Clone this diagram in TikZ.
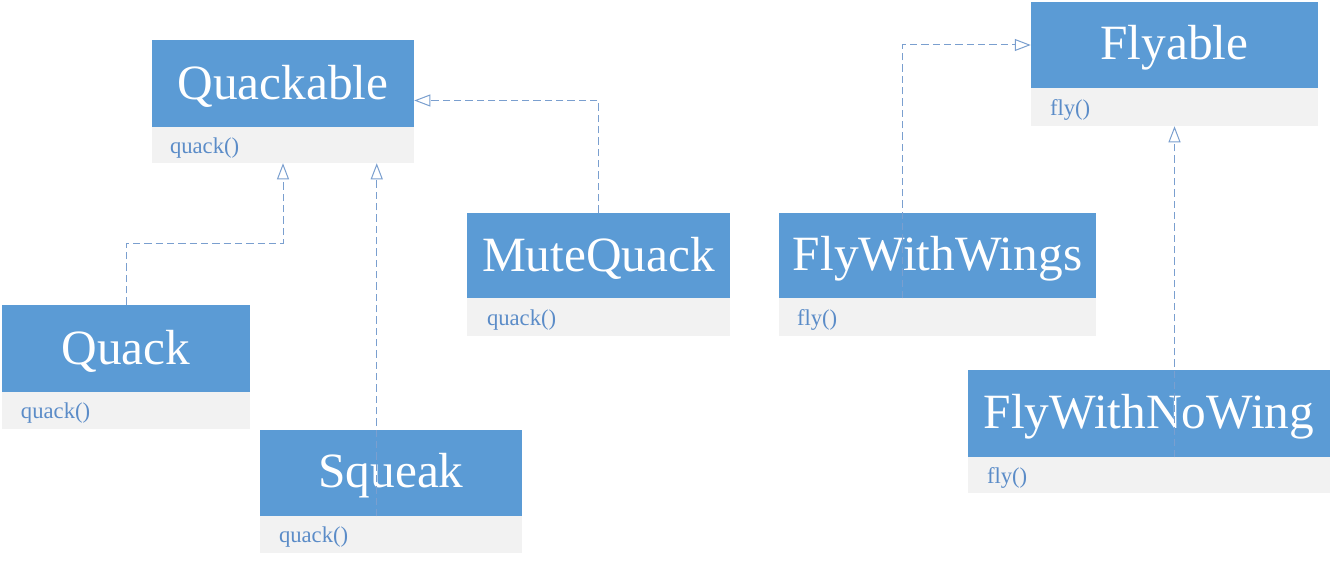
\documentclass[tikz,border=0pt]{standalone}
\usepackage{fontspec}
\setmainfont{Liberation Serif}
\usetikzlibrary{fit,calc,arrows.meta}
\definecolor{hdrblue}{HTML}{5B9BD5}
\definecolor{methbg}{HTML}{F2F2F2}
\definecolor{methtxt}{HTML}{5B8CC8}
\definecolor{linkcol}{HTML}{7A9FCF}
\tikzset{
  hdr/.style={fill=hdrblue, draw=none, inner sep=0pt},
  htext/.style={inner sep=0pt, text=white, font=\fontsize{37}{40}\selectfont},
  meth/.style={fill=methbg, draw=none, inner sep=0pt},
  mtext/.style={anchor=west, inner sep=0pt, text=methtxt, font=\fontsize{17}{19}\selectfont},
  dep/.style={draw=linkcol, line width=0.75pt, dash pattern=on 5.5pt off 3pt,
    -{Triangle[open, length=12pt, width=9pt, fill=white]}},
}
\begin{document}
\begin{tikzpicture}[x=0.75pt, y=-0.75pt]
\useasboundingbox (0,0) rectangle (1344,560);
% Quackable
\node[hdr, fit={(152,40)(414,127)}] (qh) {};
\node[htext] (qht) at ($(qh.center)+(0,3)$) {Quackable};
\node[meth, fit={(152,127)(414,163)}] (qm) {};
\node[mtext] (qmt) at ($(qm.west)+(18,3)$) {quack()};
% MuteQuack
\node[hdr, fit={(467,213)(730,298)}] (mqh) {};
\node[htext] (mqht) at ($(mqh.center)+(0,3)$) {MuteQuack};
\node[meth, fit={(467,298)(730,336)}] (mqm) {};
\node[mtext] (mqmt) at ($(mqm.west)+(20,3)$) {quack()};
% Quack
\node[hdr, fit={(2,305)(250,392)}] (qkh) {};
\node[htext] (qkht) at ($(qkh.center)+(0,3)$) {Quack};
\node[meth, fit={(2,392)(250,429)}] (qkm) {};
\node[mtext] (qkmt) at ($(qkm.west)+(19,3)$) {quack()};
% Squeak
\node[hdr, fit={(260,430)(522,516)}] (sqh) {};
\node[htext] (sqht) at ($(sqh.center)+(0,3)$) {Squeak};
\node[meth, fit={(260,516)(522,553)}] (sqm) {};
\node[mtext] (sqmt) at ($(sqm.west)+(19,3)$) {quack()};
% Flyable
\node[hdr, fit={(1031,2)(1318,88)}] (fh) {};
\node[htext] (fht) at ($(fh.center)+(0,3)$) {Flyable};
\node[meth, fit={(1031,88)(1318,126)}] (fm) {};
\node[mtext] (fmt) at ($(fm.west)+(19,3)$) {fly()};
% FlyWithWings
\node[hdr, fit={(779,213)(1096,298)}] (fwh) {};
\node[htext] (fwht) at ($(fwh.center)+(0,3)$) {FlyWithWings};
\node[meth, fit={(779,298)(1096,336)}] (fwm) {};
\node[mtext] (fwmt) at ($(fwm.west)+(18,3)$) {fly()};
% FlyWithNoWing
\node[hdr, fit={(968,370)(1330,457)}] (nwh) {};
\node[htext] (nwht) at ($(nwh.center)+(0,3)$) {FlyWithNoWing};
\node[meth, fit={(968,457)(1330,493)}] (nwm) {};
\node[mtext] (nwmt) at ($(nwm.west)+(19,3)$) {fly()};
% connectors
\draw[dep] (qkh.north) -- ++(0,-61) -| (qm.south);
\coordinate (s1) at ($(sqh.south west)+(117,0)$);
\draw[dep] (s1) -- (s1 |- qm.south);
\coordinate (c1) at ($(qh.east)+(0,17)$);
\draw[dep] (mqh.north) |- (c1);
\coordinate (s2) at ($(fwh.south west)+(124,0)$);
\draw[dep] (s2) |- (fh.west);
\draw[dep] (nwh.south -| fm.south) -- (fm.south);
\end{tikzpicture}
\end{document}
